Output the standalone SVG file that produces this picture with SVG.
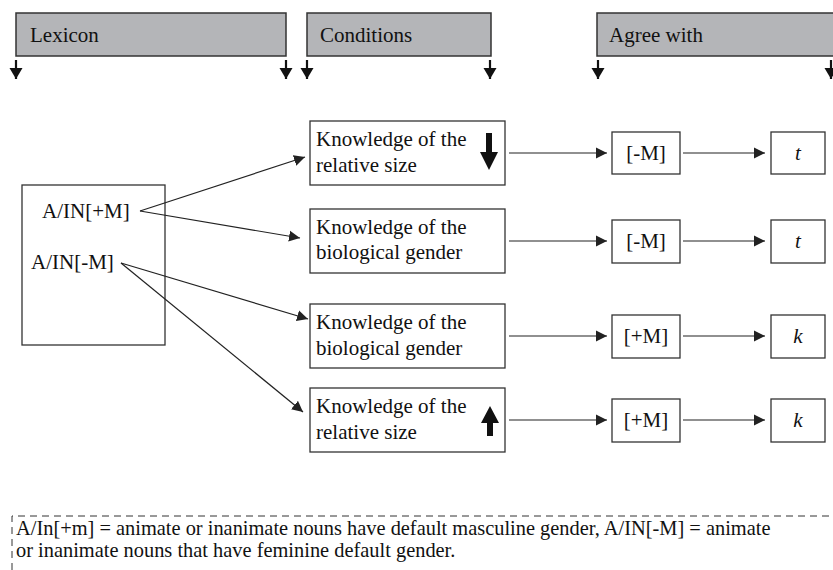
<svg xmlns="http://www.w3.org/2000/svg" width="833" height="570" viewBox="0 0 833 570" font-family="'Liberation Serif', 'Times New Roman', Times, serif">
<style>
text{font-family:'Liberation Serif','Times New Roman',Times,serif;fill:#111;}
.t{font-size:21px;}
.hdr{fill:#b4b5b8;stroke:#333;stroke-width:1.5;}
.box{fill:#fff;stroke:#333;stroke-width:1.3;}
.ln{stroke:#222;stroke-width:1.2;fill:none;}
.hl{stroke:#111;stroke-width:2.2;}
.foot{font-size:20.4px;}
</style>
<defs>
<marker id="ah" markerUnits="userSpaceOnUse" markerWidth="12" markerHeight="12" viewBox="0 0 12 12" refX="11" refY="6" orient="auto">
<path d="M0,0.5 L11,6 L0,11.5 z" fill="#222"/>
</marker>
<marker id="hh" markerUnits="userSpaceOnUse" markerWidth="14" markerHeight="12" viewBox="0 0 14 12" refX="7" refY="11" orient="0">
<path d="M0.5,0 L13.5,0 L7,11 z" fill="#111"/>
</marker>
</defs>

<g id="header-lexicon">
<rect class="hdr" x="16" y="13" width="270" height="43"/>
<text class="t" x="30" y="42">Lexicon</text>
<line class="hl" x1="16" y1="60" x2="16" y2="79" marker-end="url(#hh)"/>
<line class="hl" x1="286" y1="60" x2="286" y2="79" marker-end="url(#hh)"/>
</g>
<g id="header-conditions">
<rect class="hdr" x="307" y="13" width="184" height="43"/>
<text class="t" x="320" y="42">Conditions</text>
<line class="hl" x1="307" y1="60" x2="307" y2="79" marker-end="url(#hh)"/>
<line class="hl" x1="490" y1="60" x2="490" y2="79" marker-end="url(#hh)"/>
</g>
<g id="header-agree">
<rect class="hdr" x="597" y="13" width="240" height="43"/>
<text class="t" x="609" y="42">Agree with</text>
<line class="hl" x1="598" y1="60" x2="598" y2="79" marker-end="url(#hh)"/>
<line class="hl" x1="831" y1="60" x2="831" y2="79" marker-end="url(#hh)"/>
</g>

<g id="lexicon">
<rect class="box" x="22" y="185" width="143" height="160"/>
<text class="t" x="42" y="218">A/IN[+M]</text>
<text class="t" x="31" y="269">A/IN[-M]</text>
</g>

<g id="cond1">
<rect class="box" x="310" y="121" width="195" height="64"/>
<text class="t" x="316" y="146">Knowledge of the</text>
<text class="t" x="316" y="172">relative size</text>
<polygon points="486,133 492,133 492,152 498,152 489,170 480,152 486,152" fill="#111"/>
</g>
<g id="cond2">
<rect class="box" x="310" y="209" width="195" height="64"/>
<text class="t" x="316" y="234">Knowledge of the</text>
<text class="t" x="316" y="259">biological gender</text>
</g>
<g id="cond3">
<rect class="box" x="310" y="304" width="195" height="64"/>
<text class="t" x="316" y="329">Knowledge of the</text>
<text class="t" x="316" y="355">biological gender</text>
</g>
<g id="cond4">
<rect class="box" x="310" y="388" width="195" height="64"/>
<text class="t" x="316" y="413">Knowledge of the</text>
<text class="t" x="316" y="439">relative size</text>
<polygon points="490,406 499,423 493,423 493,436 487,436 487,423 481,423" fill="#111"/>
</g>

<g id="m1"><rect class="box" x="612" y="132" width="68" height="42"/><text class="t" x="646" y="160" text-anchor="middle">[-M]</text></g>
<g id="m2"><rect class="box" x="612" y="220" width="68" height="43"/><text class="t" x="646" y="248" text-anchor="middle">[-M]</text></g>
<g id="m3"><rect class="box" x="612" y="315" width="68" height="43"/><text class="t" x="646" y="343" text-anchor="middle">[+M]</text></g>
<g id="m4"><rect class="box" x="612" y="399" width="68" height="43"/><text class="t" x="646" y="427" text-anchor="middle">[+M]</text></g>

<g id="r1"><rect class="box" x="771" y="132" width="54" height="42"/><text class="t" x="798" y="160" text-anchor="middle" font-style="italic">t</text></g>
<g id="r2"><rect class="box" x="771" y="220" width="54" height="43"/><text class="t" x="798" y="248" text-anchor="middle" font-style="italic">t</text></g>
<g id="r3"><rect class="box" x="771" y="315" width="54" height="43"/><text class="t" x="798" y="343" text-anchor="middle" font-style="italic">k</text></g>
<g id="r4"><rect class="box" x="771" y="399" width="54" height="43"/><text class="t" x="798" y="427" text-anchor="middle" font-style="italic">k</text></g>

<g id="connectors">
<line class="ln" x1="140" y1="211" x2="305" y2="157" marker-end="url(#ah)"/>
<line class="ln" x1="140" y1="211" x2="300" y2="238" marker-end="url(#ah)"/>
<line class="ln" x1="121" y1="263" x2="308" y2="319" marker-end="url(#ah)"/>
<line class="ln" x1="121" y1="263" x2="303" y2="412" marker-end="url(#ah)"/>
<line class="ln" x1="509" y1="153" x2="607" y2="153" marker-end="url(#ah)"/>
<line class="ln" x1="509" y1="241" x2="607" y2="241" marker-end="url(#ah)"/>
<line class="ln" x1="509" y1="336" x2="607" y2="336" marker-end="url(#ah)"/>
<line class="ln" x1="509" y1="420" x2="607" y2="420" marker-end="url(#ah)"/>
<line class="ln" x1="683" y1="153" x2="765" y2="153" marker-end="url(#ah)"/>
<line class="ln" x1="683" y1="241" x2="765" y2="241" marker-end="url(#ah)"/>
<line class="ln" x1="683" y1="336" x2="765" y2="336" marker-end="url(#ah)"/>
<line class="ln" x1="683" y1="420" x2="765" y2="420" marker-end="url(#ah)"/>
</g>

<g id="footnote">
<path d="M12,570 L12,516 L833,516" fill="none" stroke="#333" stroke-width="1" stroke-dasharray="7,5"/>
<text class="foot" x="16" y="535">A/In[+m] = animate or inanimate nouns have default masculine gender, A/IN[-M] = animate</text>
<text class="foot" x="16" y="557">or inanimate nouns that have feminine default gender.</text>
</g>
</svg>
